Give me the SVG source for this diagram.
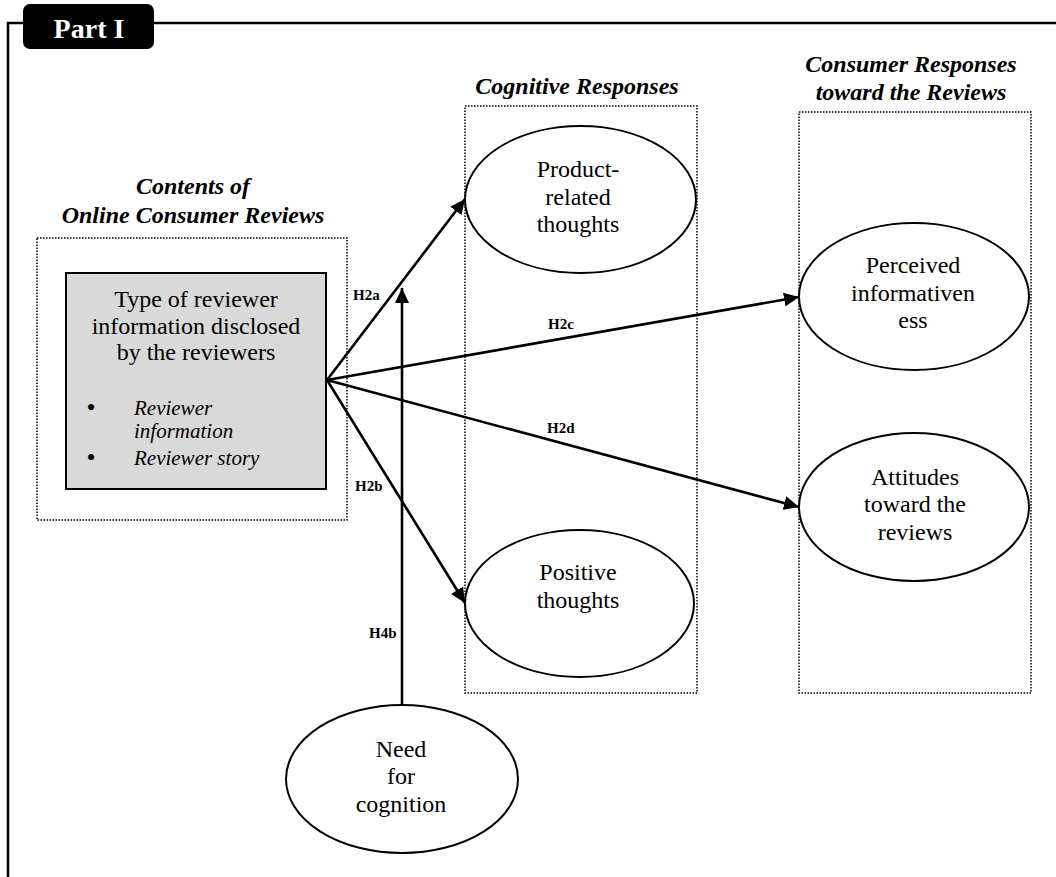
<svg xmlns="http://www.w3.org/2000/svg" width="1056" height="877" viewBox="0 0 1056 877">
  <style>
    .serif { font-family: "Liberation Serif", "Times New Roman", serif; fill: #000; }
    .node-text { font-size: 24px; text-anchor: middle; }
    .header { font-size: 24px; font-weight: bold; font-style: italic; text-anchor: middle; }
    .label { font-size: 15px; font-weight: bold; }
    .bullet-text { font-size: 21px; font-style: italic; }
    .bullet { font-size: 26px; text-anchor: middle; }
    .group-box { fill: none; stroke: #000; stroke-width: 1.5; stroke-dasharray: 1.5 1.5; }
    .oval { fill: #fff; stroke: #000; stroke-width: 2; }
    .link { fill: none; stroke: #000; stroke-width: 2.6; marker-end: url(#arrow); }
  </style>
  <defs>
    <marker id="arrow" markerUnits="userSpaceOnUse" markerWidth="16" markerHeight="14" refX="15" refY="7" orient="auto">
      <path d="M0,0 L15,7 L0,14 z" fill="#000"/>
    </marker>
  </defs>

  <rect width="1056" height="877" fill="#fff"/>

  <!-- outer frame and title tab -->
  <g id="frame">
    <path d="M8,877 L8,23 L1056,23" fill="none" stroke="#000" stroke-width="2.5"/>
    <rect x="23" y="4" width="131" height="45" rx="7" fill="#000"/>
    <text class="serif" x="89" y="38" font-size="28" font-weight="bold" text-anchor="middle" style="fill:#fff">Part I</text>
  </g>

  <!-- grouping boxes and their headings -->
  <g id="group-contents">
    <text class="serif header" x="193" y="194">Contents of</text>
    <text class="serif header" x="193" y="223">Online Consumer Reviews</text>
    <rect class="group-box" x="37" y="238" width="310" height="282"/>
  </g>
  <g id="group-cognitive">
    <text class="serif header" x="577" y="94">Cognitive Responses</text>
    <rect class="group-box" x="465" y="106" width="232" height="587"/>
  </g>
  <g id="group-consumer">
    <text class="serif header" x="911" y="72">Consumer Responses</text>
    <text class="serif header" x="911" y="100">toward the Reviews</text>
    <rect class="group-box" x="799" y="112" width="232" height="581"/>
  </g>

  <!-- nodes -->
  <g id="node-reviewer-info">
    <rect x="66" y="273" width="260" height="216" fill="#d9d9d9" stroke="#000" stroke-width="2"/>
    <text class="serif node-text" x="196" y="307">Type of reviewer</text>
    <text class="serif node-text" x="196" y="334">information disclosed</text>
    <text class="serif node-text" x="196" y="360">by the reviewers</text>
    <text class="serif bullet" x="91" y="416">•</text>
    <text class="serif bullet-text" x="134" y="415">Reviewer</text>
    <text class="serif bullet-text" x="134" y="438">information</text>
    <text class="serif bullet" x="91" y="466">•</text>
    <text class="serif bullet-text" x="134" y="465">Reviewer story</text>
  </g>

  <g id="node-product-thoughts">
    <ellipse class="oval" cx="580.5" cy="199.5" rx="115.5" ry="73.5"/>
    <text class="serif node-text" x="578" y="177">Product-</text>
    <text class="serif node-text" x="578" y="205">related</text>
    <text class="serif node-text" x="578" y="232">thoughts</text>
  </g>

  <g id="node-positive-thoughts">
    <ellipse class="oval" cx="579.5" cy="603.5" rx="114.5" ry="73.5"/>
    <text class="serif node-text" x="578" y="580">Positive</text>
    <text class="serif node-text" x="578" y="608">thoughts</text>
  </g>

  <g id="node-informativeness">
    <ellipse class="oval" cx="914" cy="296.5" rx="115" ry="73.5"/>
    <text class="serif node-text" x="913" y="273">Perceived</text>
    <text class="serif node-text" x="913" y="301">informativen</text>
    <text class="serif node-text" x="913" y="328">ess</text>
  </g>

  <g id="node-attitudes">
    <ellipse class="oval" cx="914" cy="507" rx="115" ry="74"/>
    <text class="serif node-text" x="915" y="485">Attitudes</text>
    <text class="serif node-text" x="915" y="512">toward the</text>
    <text class="serif node-text" x="915" y="540">reviews</text>
  </g>

  <g id="node-need-for-cognition">
    <ellipse class="oval" cx="402" cy="779" rx="116" ry="74"/>
    <text class="serif node-text" x="401" y="757">Need</text>
    <text class="serif node-text" x="401" y="784">for</text>
    <text class="serif node-text" x="401" y="812">cognition</text>
  </g>

  <!-- connectors -->
  <g id="connectors">
    <line class="link" x1="327" y1="380" x2="465" y2="199"/>
    <line class="link" x1="327" y1="380" x2="799" y2="297"/>
    <line class="link" x1="327" y1="380" x2="799" y2="507"/>
    <line class="link" x1="327" y1="380" x2="465" y2="603"/>
    <line class="link" x1="402" y1="705" x2="402" y2="288"/>
    <text class="serif label" x="353" y="300">H2a</text>
    <text class="serif label" x="548" y="329">H2c</text>
    <text class="serif label" x="547" y="433">H2d</text>
    <text class="serif label" x="355" y="491">H2b</text>
    <text class="serif label" x="369" y="638">H4b</text>
  </g>
</svg>
